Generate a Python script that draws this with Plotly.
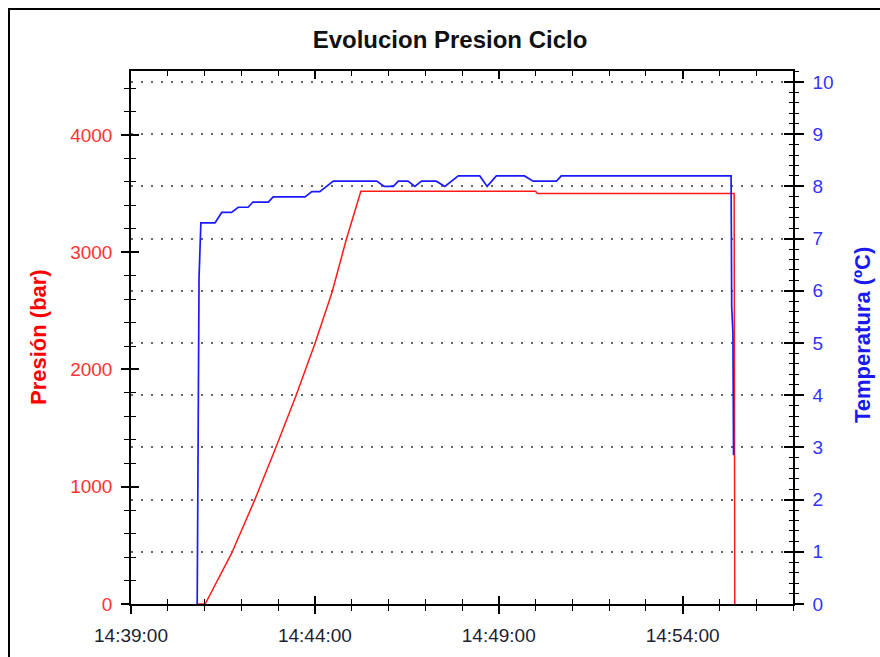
import plotly.graph_objects as go

DAY = "2024-01-01 "

# ---- data ----
pres_times = ["14:40:48", "14:41:01", "14:41:44", "14:42:21", "14:42:56", "14:43:29",
              "14:44:00", "14:44:28", "14:44:51", "14:45:15", "14:50:00", "14:50:03",
              "14:55:24", "14:55:25"]
pres_vals = [0, 0, 431, 877, 1330, 1773, 2219, 2658, 3104, 3520, 3520, 3500, 3500, 0]

temp_times = ["14:40:48", "14:40:51", "14:40:54", "14:41:17", "14:41:28", "14:41:44",
              "14:41:55", "14:42:11", "14:42:19", "14:42:44", "14:42:52", "14:43:44",
              "14:43:55", "14:44:08", "14:44:30", "14:45:41", "14:45:53", "14:46:08",
              "14:46:16", "14:46:32", "14:46:43", "14:46:54", "14:47:18", "14:47:32",
              "14:47:54", "14:48:29", "14:48:41", "14:48:56", "14:49:42", "14:49:56",
              "14:50:34", "14:50:42", "14:55:19", "14:55:20", "14:55:22", "14:55:23"]
temp_vals = [0, 6.25, 7.3, 7.3, 7.5, 7.5,
             7.6, 7.6, 7.7, 7.7, 7.8, 7.8,
             7.9, 7.9, 8.1, 8.1, 8.0, 8.0,
             8.1, 8.1, 8.0, 8.1, 8.1, 8.0,
             8.2, 8.2, 8.0, 8.2, 8.2, 8.1,
             8.1, 8.2, 8.2, 5.7, 5.2, 2.85]

x_tick_labels = ["14:39:00", "14:44:00", "14:49:00", "14:54:00"]
x_range = ["14:39:00", "14:57:00"]
pres_range = [0, 4545]
temp_range = [0, 10.21]

TITLE = "Evolucion Presion Ciclo"
LEFT_TITLE = "Presión (bar)"
RIGHT_TITLE = "Temperatura (ºC)"

FONT = "Arial, Liberation Sans, sans-serif"
RED = "#ff1a1a"
BLUE = "#1a1aff"

px = [DAY + t for t in pres_times]
tx = [DAY + t for t in temp_times]
xr = [DAY + t for t in x_range]
xtv = [DAY + t for t in x_tick_labels]

fig = go.Figure()
fig.add_trace(go.Scatter(x=tx, y=temp_vals, mode="lines", line=dict(color=BLUE, width=1.7),
                         xaxis="x", yaxis="y2", hoverinfo="skip"))
fig.add_trace(go.Scatter(x=px, y=pres_vals, mode="lines", line=dict(color=RED, width=1.5),
                         xaxis="x", yaxis="y", hoverinfo="skip"))
# invisible helpers for the crossing ticks
fig.add_trace(go.Scatter(x=[xr[0]], y=[0], mode="markers", marker=dict(opacity=0),
                         xaxis="x2", yaxis="y3", hoverinfo="skip"))
fig.add_trace(go.Scatter(x=[xr[0]], y=[0], mode="markers", marker=dict(opacity=0),
                         xaxis="x", yaxis="y4", hoverinfo="skip"))

L, R, T, B = 131, 87, 71, 53
W, H = 880, 657
pw, ph = W - L - R, H - T - B

fig.update_layout(
    width=W, height=H,
    margin=dict(l=L, r=R, t=T, b=B, pad=0),
    paper_bgcolor="white", plot_bgcolor="white",
    showlegend=False,
    title=dict(text="<b>" + TITLE + "</b>", x=(450 - L) / pw, xref="paper", xanchor="center",
               y=1 - 40 / H, yanchor="middle", font=dict(family=FONT, size=24, color="#111111")),
    xaxis=dict(type="date", range=xr, tickmode="array", tickvals=xtv, ticktext=x_tick_labels,
               ticks="outside", ticklen=8, tickwidth=1.5, tickcolor="black",
               minor=dict(dtick=60000, tick0=xr[0], ticks="outside", ticklen=5, tickcolor="black", tickwidth=1),
               showline=True, linecolor="black", linewidth=1.5, showgrid=False, zeroline=False,
               tickfont=dict(family=FONT, size=19, color="#1e1e30"), ticklabelstandoff=5),
    xaxis2=dict(type="date", range=xr, overlaying="x", anchor="y", side="bottom",
                tickmode="array", tickvals=xtv, showticklabels=False,
                ticks="inside", ticklen=8, tickwidth=1.5, tickcolor="black", mirror="ticks",
                minor=dict(dtick=60000, tick0=xr[0], ticks="inside", ticklen=5, tickcolor="black", tickwidth=1),
                showline=True, linecolor="black", linewidth=1.5, showgrid=False, zeroline=False),
    yaxis=dict(range=pres_range, dtick=1000, tick0=0, ticks="outside", ticklen=8, tickwidth=1.5,
               tickcolor="black",
               minor=dict(dtick=200, ticks="outside", ticklen=5, tickcolor="black", tickwidth=1),
               showline=True, linecolor="black", linewidth=1.5, showgrid=False, zeroline=False,
               tickfont=dict(family=FONT, size=19, color="#ff3333"), ticklabelstandoff=5),
    yaxis3=dict(range=pres_range, overlaying="y", anchor="x", side="left", dtick=1000, tick0=0,
                ticks="inside", ticklen=8, tickwidth=1.5, tickcolor="black", showticklabels=False,
                minor=dict(dtick=200, ticks="inside", ticklen=5, tickcolor="black", tickwidth=1),
                showline=False, showgrid=False, zeroline=False),
    yaxis2=dict(range=temp_range, overlaying="y", anchor="x", side="right", dtick=1, tick0=0,
                ticks="outside", ticklen=9, tickwidth=1.5, tickcolor="black",
                minor=dict(dtick=0.2, ticks="outside", ticklen=4, tickcolor="black", tickwidth=1),
                showline=True, linecolor="black", linewidth=1.5,
                showgrid=True, gridcolor="#666666", gridwidth=1.5, griddash="2px,8px", zeroline=False,
                tickfont=dict(family=FONT, size=19, color="#3333ff"), ticklabelstandoff=5),
    yaxis4=dict(range=temp_range, overlaying="y", anchor="x", side="right", dtick=1, tick0=0,
                ticks="inside", ticklen=9, tickwidth=1.5, tickcolor="black", showticklabels=False,
                minor=dict(dtick=0.2, ticks="inside", ticklen=4, tickcolor="black", tickwidth=1),
                showline=False, showgrid=False, zeroline=False),
    annotations=[
        dict(text="<b>" + LEFT_TITLE + "</b>", xref="paper", yref="paper",
             x=(38 - L) / pw, y=(H - B - 337) / ph, textangle=-90, showarrow=False,
             xanchor="center", yanchor="middle", font=dict(family=FONT, size=22, color="#ff0000")),
        dict(text="<b>" + RIGHT_TITLE + "</b>", xref="paper", yref="paper",
             x=(862 - L) / pw, y=(H - B - 335) / ph, textangle=-90, showarrow=False,
             xanchor="center", yanchor="middle", font=dict(family=FONT, size=22, color="#1a1aee")),
    ],
    shapes=[
        dict(type="rect", xref="paper", yref="paper",
             x0=(9 - L) / pw, x1=1.4, y0=-0.3, y1=(H - B - 9) / ph,
             line=dict(color="black", width=2), fillcolor="rgba(0,0,0,0)", layer="above"),
    ],
)

fig.write_html("out.html", config=dict(displayModeBar=False))
